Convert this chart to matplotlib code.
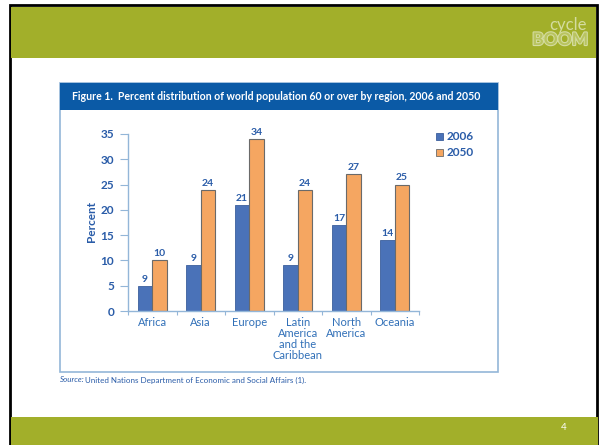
import matplotlib
matplotlib.use("Agg")
import matplotlib.pyplot as plt
from matplotlib.patches import Rectangle
import matplotlib.patheffects as pe
import numpy as np

# data
regions = ["Africa", "Asia", "Europe", "Latin\nAmerica\nand the\nCaribbean", "North\nAmerica", "Oceania"]
pop_2006 = [5, 9, 21, 9, 17, 14]
pop_2050 = [10, 24, 34, 24, 27, 25]
# labels printed above the bars (Africa 2006 is printed as 9 in the source)
labels_2006 = ["9", "9", "21", "9", "17", "14"]
labels_2050 = ["10", "24", "34", "24", "27", "25"]
years = ["2006", "2050"]
y_ticks = [0, 5, 10, 15, 20, 25, 30, 35]

W, H = 600, 445
GREEN = "#a2af2a"
BLUE_BAR = "#4a72b8"
ORANGE_BAR = "#f5a661"
TITLE_BLUE = "#0b5aa6"
TEXT_BLUE = "#2a5ca8"
LABEL_BLUE = "#3170b8"
FRAME = "#93b6d8"
LOGO = "#d4dca0"

plt.rcParams['font.family'] = ['Lato', 'DejaVu Sans']

fig = plt.figure(figsize=(W / 100, H / 100), dpi=100)


def fx(px):
    return px / W


def fy(py):
    return 1 - py / H


def rect(x0, y0, x1, y1, z=-5, **kw):
    # pixel box, top-left origin
    r = Rectangle((fx(x0), fy(y1)), fx(x1 - x0), (y1 - y0) / H,
                  transform=fig.transFigure, zorder=z, **kw)
    fig.add_artist(r)
    return r


# slide frame and green bands
rect(10, 5, 597, 450, z=-10, facecolor="white", edgecolor="black", linewidth=2.0)
rect(11, 7, 596, 58, facecolor=GREEN, edgecolor="none")
rect(11, 417, 598, 445, facecolor=GREEN, edgecolor="none")
fig.text(fx(587), fy(25), "cycle", color=LOGO, fontsize=12, fontweight="normal",
         ha="right", va="center")
fig.text(fx(588), fy(40), "BOOM", color="#b9c460", fontsize=12.5, fontweight="bold",
         ha="right", va="center",
         path_effects=[pe.withStroke(linewidth=1.6, foreground=LOGO)])
fig.text(fx(564), fy(427), "4", color="white", fontsize=7, ha="center", va="center")

# figure box
rect(60, 83, 498, 372, facecolor="none", edgecolor=FRAME, linewidth=1.2)
rect(60, 83, 498, 110, facecolor=TITLE_BLUE, edgecolor="none")
fig.text(fx(72), fy(97), "Figure 1.  Percent distribution of world population 60 or over by region, 2006 and 2050",
         color="white", fontsize=7.6, fontweight="bold", va="center", ha="left")
fig.text(fx(60), fy(380), "Source:", color=TEXT_BLUE, fontsize=5.8, style="italic",
         va="center", ha="left")
fig.text(fx(85), fy(380), "United Nations Department of Economic and Social Affairs (1).",
         color=TEXT_BLUE, fontsize=5.8, va="center", ha="left")

# chart axes
ax = fig.add_axes([fx(128), fy(311), fx(419 - 128), (311 - 134) / H])
ax.set_zorder(10)
ax.set_facecolor("none")
x = np.arange(len(regions))
bw = 0.3
b1 = ax.bar(x - bw / 2, pop_2006, bw, color=BLUE_BAR, edgecolor="#3b5f9c", linewidth=0.6, label=years[0])
b2 = ax.bar(x + bw / 2, pop_2050, bw, color=ORANGE_BAR, edgecolor="#6a6a6a", linewidth=0.8, label=years[1])

for rects, labs in ((b1, labels_2006), (b2, labels_2050)):
    for r, lab in zip(rects, labs):
        ax.annotate(lab, (r.get_x() + r.get_width() / 2, r.get_height()),
                    xytext=(0, 1.5), textcoords="offset points", ha="center", va="bottom",
                    fontsize=7.5, fontweight="bold", color=TEXT_BLUE)

ax.set_xlim(-0.5, len(regions) - 0.5)
ax.set_ylim(0, 35)
ax.set_yticks(y_ticks)
ax.set_yticklabels([str(t) for t in y_ticks], fontweight="bold", color=TEXT_BLUE, fontsize=8.5)
ax.tick_params(axis="y", direction="out", length=6, width=0.8, color=FRAME, pad=4)

ax.set_xticks(x)
ax.set_xticklabels(regions, color=LABEL_BLUE, fontsize=8, linespacing=1.0)
ax.tick_params(axis="x", which="major", length=0, pad=4)
ax.set_xticks(np.arange(len(regions) + 1) - 0.5, minor=True)
ax.tick_params(axis="x", which="minor", direction="out", length=3, width=0.8, color=FRAME)

for side in ("top", "right"):
    ax.spines[side].set_visible(False)
for side in ("left", "bottom"):
    ax.spines[side].set_color(FRAME)
    ax.spines[side].set_linewidth(1.0)

fig.text(fx(92), fy(221), "Percent", rotation=90, color=TEXT_BLUE, fontsize=8.5,
         fontweight="bold", ha="center", va="center")

# legend
for i, (yr, col, ec) in enumerate(zip(years, [BLUE_BAR, ORANGE_BAR], ["#3b5f9c", "#6a6a6a"])):
    ypx = 137 + 16 * i
    rect(436, ypx - 4, 443, ypx + 3, facecolor=col, edgecolor=ec, linewidth=0.6)
    fig.text(fx(447), fy(ypx), yr, color=TEXT_BLUE, fontsize=8.5, fontweight="bold",
             ha="left", va="center")

fig.savefig("out.png", dpi=100)
